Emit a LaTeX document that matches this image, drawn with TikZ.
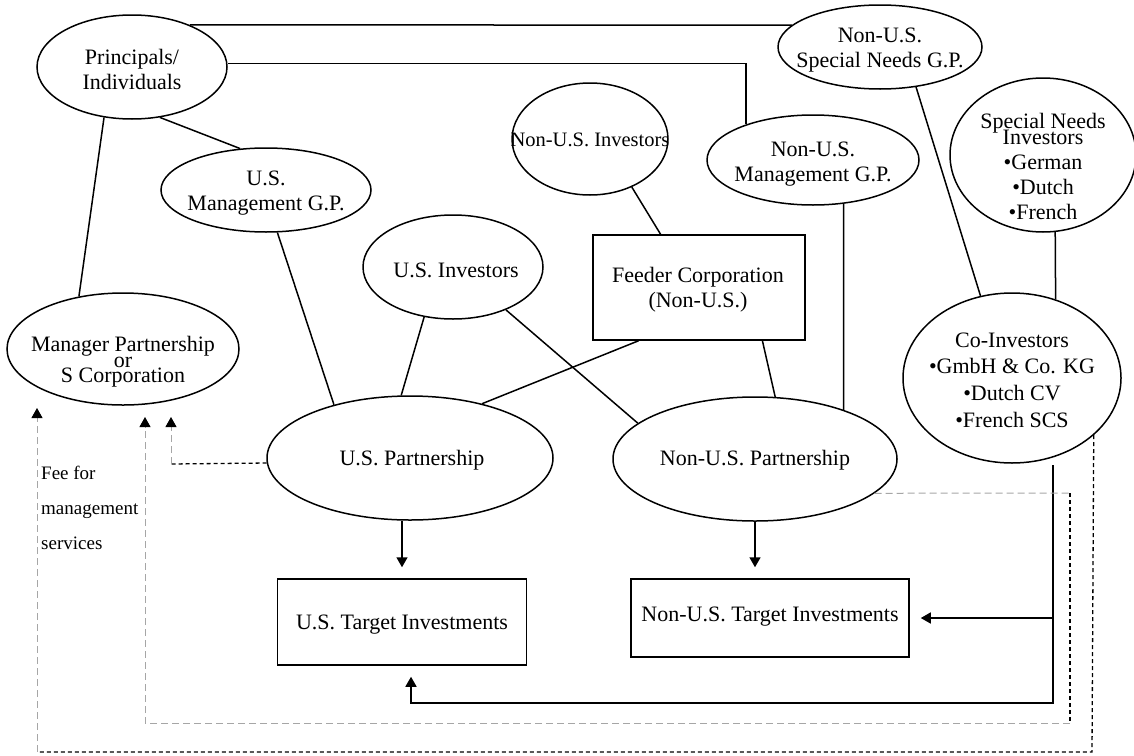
\documentclass[tikz,border=0pt]{standalone}
\usepackage{fontspec}
\setmainfont{Liberation Serif}
\usetikzlibrary{shapes.geometric,arrows.meta,calc}
\begin{document}
\begin{tikzpicture}[x=1pt,y=-1pt,
  ln/.style={line width=1.5pt},
  ell/.style 2 args={ellipse, draw, line width=1.5pt, minimum width=#1, minimum height=#2, inner sep=0pt},
  box/.style 2 args={rectangle, draw, line width=1.5pt, minimum width=#1, minimum height=#2, inner sep=0pt},
  txt/.style={align=center, inner sep=0pt, font=\fontsize{22}{25}\selectfont},
  arr/.style={line width=1.5pt, -{Triangle[length=10pt,width=11pt]}},
  tipb/.style={-{Triangle[length=10pt,width=11pt,color=black]}},
  bdash/.style={line width=1.3pt, dash pattern=on 4pt off 3pt},
  gdash/.style={line width=1pt, color=black!35, dash pattern=on 7pt off 4pt}]
\useasboundingbox (0,0) rectangle (1134,755);

% nodes
\node[ell={190pt}{104pt}] (pr) at (132,67) {};
\node[txt] (prt) at (132,69) {Principals/\\Individuals};
\node[ell={210pt}{84pt}] (usm) at (266,190) {};
\node[txt] (usmt) at (266,193) {U.S.\\Management G.P.};
\node[ell={204pt}{84pt}] (nsg) at (880,47) {};
\node[txt] (nsgt) at (880,50) {Non-U.S.\\Special Needs G.P.};
\node[ell={212pt}{90pt}] (nmg) at (813,160) {};
\node[txt] (nmgt) at (813,164) {Non-U.S.\\Management G.P.};
\node[ell={186pt}{154pt}] (sni) at (1043,155) {};
\node[txt] (snit) at (1043,166) {Special Needs\\[-9pt]Investors\\•German\\•Dutch\\•French};
\node[ell={156pt}{112pt}] (nui) at (590,139) {};
\node[txt, font=\fontsize{20.5}{25}\selectfont] (nuit) at (590,140) {Non-U.S. Investors};
\node[ell={180pt}{104pt}] (usi) at (453,267) {};
\node[txt] (usit) at (456,270) {U.S. Investors};
\node[box={212pt}{105pt}] (fc) at (699,287.5) {};
\node[txt] (fct) at (698,290) {Feeder Corporation\\(Non-U.S.)};
\node[ell={232pt}{112pt}] (mp) at (123,349) {};
\node[txt, font=\fontsize{22}{15.5}\selectfont] (mpt) at (123,362) {Manager Partnership\\or\\S Corporation};
\node[ell={218pt}{170pt}] (co) at (1012,378) {};
\node[txt, font=\fontsize{22}{26.7}\selectfont] (cot) at (1012,380) {Co-Investors\\•GmbH \& Co. KG\\•Dutch CV\\•French SCS};
\node[ell={286pt}{124pt}] (usp) at (410,458) {};
\node[txt] (uspt) at (412,460) {U.S. Partnership};
\node[ell={284pt}{124pt}] (nup) at (755,459) {};
\node[txt] (nupt) at (755,460) {Non-U.S. Partnership};
\node[box={249pt}{86pt}] (ust) at (402,622) {};
\node[txt] (ustt) at (402,625) {U.S. Target Investments};
\node[box={278pt}{78pt}] (nut) at (770,618) {};
\node[txt] (nutt) at (770,617) {Non-U.S. Target Investments};
\node[anchor=west, align=left, inner sep=0pt, font=\fontsize{19}{35}\selectfont] (fee) at (41,508) {Fee for\\management\\services};

% solid connectors
\draw[ln] (pr.36) -- (nsg.166);
\draw[ln] (pr.2.5) -| (nmg.152);
\draw[ln] (pr.-61.2) -- (usm.122.4);
\draw[ln] (pr.-119.1) -- (mp.130.6);
\draw[ln] (usm.-75.6) -- (usp.145.1);
\draw[ln] (usi.-120.6) -- (usp.98.4);
\draw[ln] (usi.-39.7) -- (nup.163);
\draw[ln] (nui.-49.5) -- ($(fc.north west)!0.32!(fc.north east)$);
\draw[ln] ($(fc.south west)!0.217!(fc.south east)$) -- (usp.37.8);
\draw[ln] ($(fc.south west)!0.797!(fc.south east)$) -- (nup.72.1);
\draw[ln] (nmg.-55.2) -- (nup.29);
\draw[ln] (nsg.-48.5) -- (co.111.7);
\draw[ln] (sni.-81.1) -- (co.61.2);

% arrows to targets
\draw[arr, shorten >=11pt] (usp.south -| ust.north) -- (ust.north);
\draw[arr, shorten >=11pt] (nup.south) -- (nup.south |- nut.north);
\coordinate (cb) at ($(co.center)+(41,87)$);
\coordinate (cc) at ($(cb)+(0,238)$);
\draw[arr, shorten >=11pt] (cb) -- (cc) -| ($(ust.south)+(9,0)$);
\draw[arr, shorten >=11pt] (cb |- nut.east) -- (nut.east);

% fee paths
\coordinate (a1) at (171,464);
\coordinate (a2) at (171,417);
\draw[bdash] (usp.182.4) -- (a1);
\draw[gdash, tipb] (a1) -- (a2);

\coordinate (b1) at (1070,493);
\coordinate (b2) at (1070,723);
\coordinate (b3) at (145,723);
\coordinate (b4) at (145,417);
\draw[gdash] (nup.-16) -- (b1);
\draw[bdash] (b1) -- (b2);
\draw[gdash, tipb] (b2) -- (b3) -- (b4);

\coordinate (c1) at (1092,752);
\coordinate (c2) at (37,752);
\coordinate (c3) at (37,408);
\draw[bdash] (co.-35.8) -- (c1) -- (c2);
\draw[gdash, tipb] (c2) -- (c3);
\end{tikzpicture}
\end{document}
